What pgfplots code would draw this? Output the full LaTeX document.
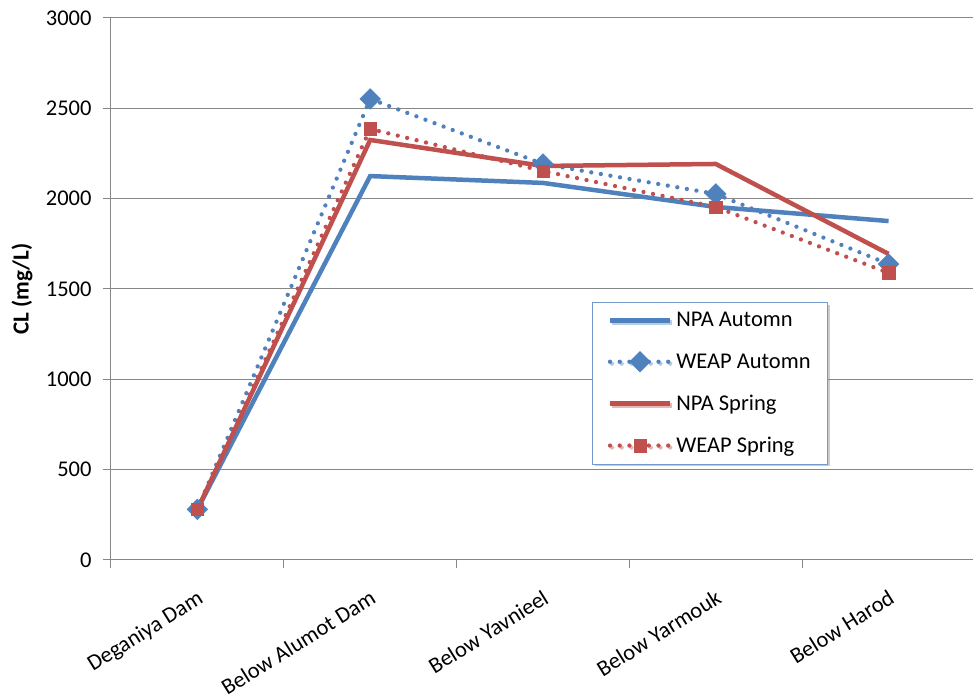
\documentclass[border=0pt]{standalone}
\usepackage{fontspec}
\setmainfont{Carlito}
\usepackage{pgfplots}
\pgfplotsset{compat=1.18}
\usetikzlibrary{shadows}
\definecolor{xlblue}{HTML}{4F81BD}
\definecolor{xlred}{HTML}{C0504D}
\definecolor{xlgrid}{HTML}{878787}
\begin{document}
\begin{tikzpicture}
\path[use as bounding box] (-111pt,-140pt) rectangle (862pt,560pt);
\begin{axis}[
  scale only axis,
  width=864pt, height=542pt,
  xmin=-0.5, xmax=4.5,
  ymin=0, ymax=3000,
  ytick={0,500,...,3000},
  xtick={0,1,2,3,4},
  xticklabels={Deganiya Dam,Below Alumot Dam,Below Yavnieel,Below Yarmouk,Below Harod},
  minor xtick={-0.5,0.5,1.5,2.5,3.5,4.5},
  major x tick style={draw=none},
  minor x tick style={draw=xlgrid, line width=1pt},
  minor tick length=8pt,
  major tick length=8pt,
  tick align=outside,
  ytick style={draw=xlgrid, line width=1pt},
  axis x line*=bottom, axis y line*=left,
  axis line style={draw=xlgrid, line width=1pt, -},
  ymajorgrids, grid style={draw=xlgrid, line width=1pt},
  tick label style={font=\fontsize{22.5}{26}\selectfont},
  /pgf/number format/assume math mode=true,
  /pgf/number format/set thousands separator={},
  xticklabel style={rotate=32, anchor=north east, inner sep=2pt, yshift=-15pt, xshift=-10pt},
  yticklabel style={xshift=-8pt},
  ylabel={\textbf{CL (mg/L)}},
  every axis y label/.style={at={(axis description cs:-0.103,0.5)}, rotate=90, anchor=center,
    font=\fontsize{23}{26}\selectfont},
  legend style={at={(0.557,0.476)}, anchor=north west, draw=xlblue!80, fill=white,
    line width=1pt, drop shadow={shadow xshift=2pt, shadow yshift=-2pt, opacity=0.4},
    font=\fontsize{22.5}{26}\selectfont, inner xsep=15pt, inner ysep=8pt,
    row sep=21pt, cells={anchor=west}},
  legend image code/.code={
    \draw[#1] (0pt,0pt) -- (60pt,0pt);
    \draw[#1, solid] plot coordinates {(30pt,0pt)};
    \path (62pt,0pt);
  },
  clip=false,
]
\addplot[xlblue, line width=4.5pt, mark=none] coordinates {
(0,280) (1,2125) (2,2087) (3,1954) (4,1876)};
\addlegendentry{NPA Automn}
\addplot[xlblue, line width=4.3pt, line cap=round, dash pattern=on 0pt off 9.7pt,
  mark=square*, mark size=7.3pt, mark options={solid, rotate=45, fill=xlblue, draw=xlblue, line width=0.5pt}] coordinates {
(0,280) (1,2552) (2,2192) (3,2026) (4,1638)};
\addlegendentry{WEAP Automn}
\addplot[xlred, line width=4.5pt, mark=none] coordinates {
(0,280) (1,2325) (2,2181) (3,2192) (4,1694)};
\addlegendentry{NPA Spring}
\addplot[xlred, line width=4.3pt, line cap=round, dash pattern=on 0pt off 9.7pt,
  mark=square*, mark size=6.2pt, mark options={solid, fill=xlred, draw=xlred, line width=0.5pt}] coordinates {
(0,280) (1,2386) (2,2153) (3,1954) (4,1589)};
\addlegendentry{WEAP Spring}
\end{axis}
\end{tikzpicture}
\end{document}
